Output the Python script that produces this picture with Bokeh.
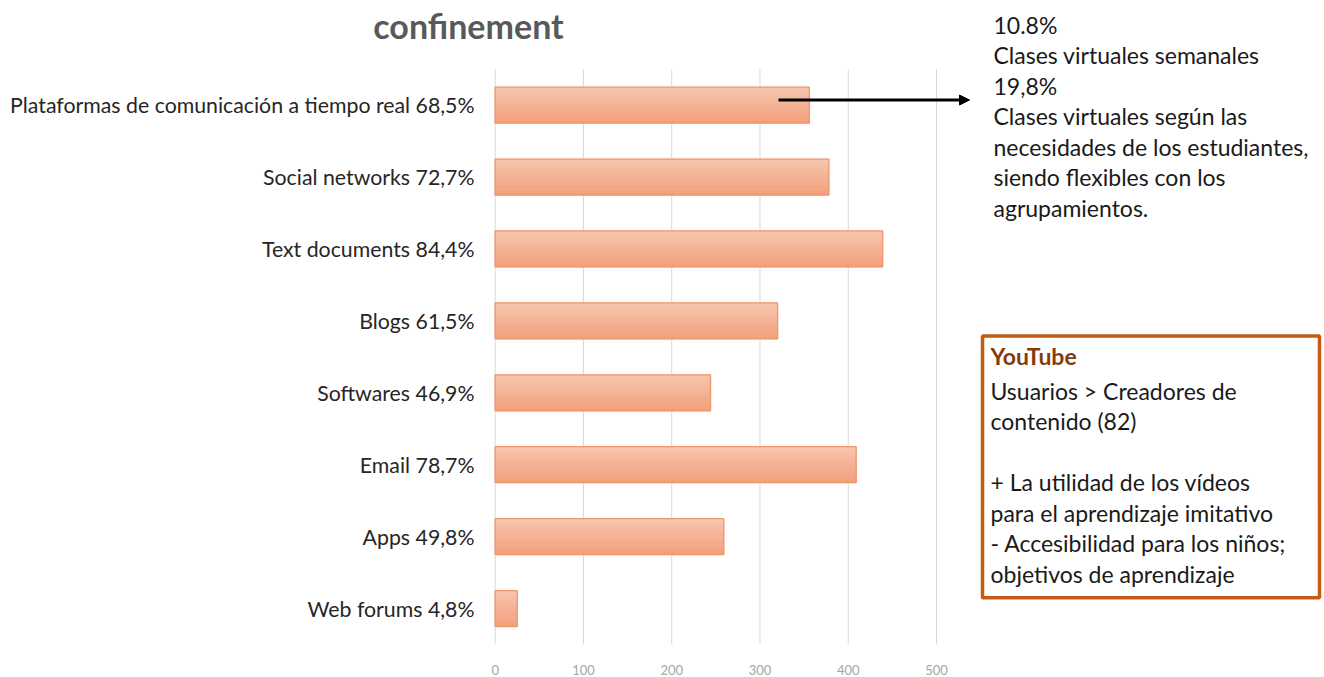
from bokeh.plotting import figure
from bokeh.models import Range1d, FixedTicker, Label, Arrow, NormalHead, BoxAnnotation, ColumnDataSource
from bokeh.transform import dodge
from bokeh.core.properties import value
from bokeh.embed import file_html
from bokeh.resources import INLINE

# ---------------- data ----------------
categories = [
    "Plataformas de comunicación a tiempo real 68,5%",
    "Social networks 72,7%",
    "Text documents 84,4%",
    "Blogs 61,5%",
    "Softwares 46,9%",
    "Email 78,7%",
    "Apps 49,8%",
    "Web forums 4,8%",
]
counts = [356, 378, 439, 320, 244, 409, 259, 25]
x_ticks = [0, 100, 200, 300, 400, 500]
title_text = "confinement"
side_lines = [
    "10.8%",
    "Clases virtuales semanales",
    "19,8%",
    "Clases virtuales según las",
    "necesidades de los estudiantes,",
    "siendo flexibles con los",
    "agrupamientos.",
]
box_title = "YouTube"
box_lines = [
    "Usuarios > Creadores de",
    "contenido (82)",
    "",
    "+ La utilidad de los vídeos",
    "para el aprendizaje imitativo",
    "- Accesibilidad para los niños;",
    "objetivos de aprendizaje",
]

# ---------------- layout helpers (pixel -> data) ----------------
W, H = 1324, 677
FB = 647                      # frame bottom (px)
X0, K = 494.67, 0.88267       # px of value 0, px per unit
N = len(categories)
TOP_CAT_PX, CH = 105.1, 72.25  # centre of first category (px), category pitch (px)
FONT = "Lato"


def dx(px):
    return (px - X0) / K


def dy(py):
    return (N - 1) - (py - TOP_CAT_PX) / CH


positions = [N - 1 - i for i in range(N)]

p = figure(
    width=W, height=H,
    x_range=Range1d(dx(0), dx(W)),
    y_range=Range1d(dy(FB), dy(0)),
    output_backend="svg", toolbar_location=None,
    y_axis_location=None,
    min_border=0, min_border_bottom=H - FB,
)
p.outline_line_color = None
p.background_fill_color = "white"
p.border_fill_color = "white"
p.xgrid.grid_line_color = None
p.ygrid.grid_line_color = None

src = ColumnDataSource(dict(cat=categories, count=counts, pos=positions))

# vertical gridlines at the ticks
p.segment(x0=x_ticks, x1=x_ticks, y0=[dy(69)] * len(x_ticks), y1=[dy(FB)] * len(x_ticks),
          line_color="#D9D9D9", line_width=1)

# gradient bars built from horizontal strips
n_strips = 14
bar_h = 0.5
top_c = (247, 197, 174)
bot_c = (243, 160, 125)
sh = bar_h / n_strips
for i in range(n_strips):
    t = i / (n_strips - 1)
    c = "#%02x%02x%02x" % tuple(int(round(top_c[j] + (bot_c[j] - top_c[j]) * t)) for j in range(3))
    off = bar_h / 2 - sh * (i + 0.5)
    p.hbar(y=dodge("pos", off), right="count", left=0, height=sh,
           source=src, fill_color=c, line_color=c, line_width=0.8)
p.hbar(y="pos", right="count", left=0, height=bar_h, source=src,
       fill_color=None, line_color="#EE9870", line_width=1.3)

# category labels
p.text(x=dx(474), y="pos", text="cat", source=src, text_align="right", text_baseline="middle",
       text_font=value(FONT), text_font_size="21.3px", text_color="#262626")

# x axis
p.xaxis.ticker = FixedTicker(ticks=x_ticks)
p.xaxis.axis_line_color = None
p.xaxis.major_tick_line_color = None
p.xaxis.minor_tick_line_color = None
p.xaxis.major_label_text_color = "#A6A6A6"
p.xaxis.major_label_text_font = FONT
p.xaxis.major_label_text_font_size = "13px"
p.xaxis.major_label_standoff = 14

# title
p.add_layout(Label(x=dx(468), y=dy(25), text=title_text, text_align="center",
                   text_baseline="middle", text_font=FONT, text_font_size="34px",
                   text_font_style="bold", text_color="#595959"))

# side notes
for i, line in enumerate(side_lines):
    p.add_layout(Label(x=dx(993), y=dy(24.3 + 30.7 * i), text=line, text_align="left",
                       text_baseline="middle", text_font=FONT, text_font_size="23px",
                       text_color="#1a1a1a"))

# arrow
p.add_layout(Arrow(x_start=dx(778), y_start=dy(100), x_end=dx(969), y_end=dy(100),
                   line_color="black", line_width=3,
                   end=NormalHead(size=10, fill_color="black", line_color="black", line_width=1)))

# box
p.add_layout(BoxAnnotation(left=dx(982), right=dx(1319), top=dy(337), bottom=dy(600),
                           fill_alpha=0, line_color="#C55A11", line_alpha=1, line_width=3.5))
p.add_layout(Label(x=dx(990), y=dy(357), text=box_title, text_align="left",
                   text_baseline="middle", text_font=FONT, text_font_size="23px",
                   text_font_style="bold", text_color="#843C0C"))
for i, line in enumerate(box_lines):
    if not line:
        continue
    p.add_layout(Label(x=dx(990), y=dy(392 + 30.7 * i), text=line, text_align="left",
                       text_baseline="middle", text_font=FONT, text_font_size="23px",
                       text_color="#1a1a1a"))

open("out.html", "w").write(file_html(p, INLINE))
